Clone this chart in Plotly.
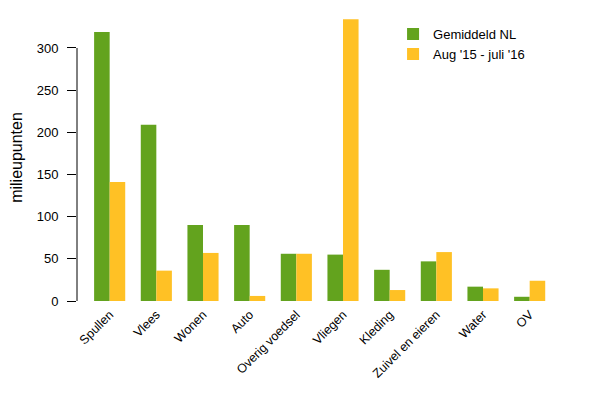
import plotly.graph_objects as go

categories = ["Spullen", "Vlees", "Wonen", "Auto", "Overig voedsel", "Vliegen",
              "Kleding", "Zuivel en eieren", "Water", "OV"]
gemiddeld_nl = [319, 209, 90, 90, 56, 55, 37, 47, 17, 5]
aug15_juli16 = [141, 36, 57, 6, 56, 334, 13, 58, 15, 24]
y_ticks = [0, 50, 100, 150, 200, 250, 300]

green = "#63A31E"
yellow = "#FFC125"

fig = go.Figure()
fig.add_trace(go.Bar(x=categories, y=gemiddeld_nl, name="Gemiddeld NL",
                     marker=dict(color=green, line=dict(width=0))))
fig.add_trace(go.Bar(x=categories, y=aug15_juli16, name="Aug '15 - juli '16",
                     marker=dict(color=yellow, line=dict(width=0))))

fig.add_shape(type="line", xref="paper", yref="y", x0=0, x1=0,
              y0=y_ticks[0], y1=y_ticks[-1], line=dict(color="black", width=1))

fig.update_layout(
    width=600, height=400,
    margin=dict(l=69, r=55, t=6, b=107, autoexpand=False),
    plot_bgcolor="white", paper_bgcolor="white",
    barmode="group", bargap=1/3, bargroupgap=0,
    font=dict(family="Liberation Sans, Arial, sans-serif", size=13, color="black"),
    showlegend=True,
    legend=dict(x=0.664, y=0.982, xanchor="left", yanchor="top",
                font=dict(size=13), bgcolor="rgba(0,0,0,0)",
                itemwidth=30, tracegroupgap=0),
    xaxis=dict(range=[-0.7, 9.5], showline=False, showgrid=False, ticks="",
               tickangle=-45, tickfont=dict(size=12.5), zeroline=False,
               automargin=False, ticklabelstandoff=3),
    yaxis=dict(range=[0, 340.3], showline=False, showgrid=False, zeroline=False,
               tickvals=y_ticks, ticks="outside", ticklen=9, tickwidth=1,
               tickcolor="black", tickfont=dict(size=13), automargin=False,
               ticklabelstandoff=6,
               title=dict(text="milieupunten", font=dict(size=16), standoff=19)),
)

fig.write_html("out.html")
